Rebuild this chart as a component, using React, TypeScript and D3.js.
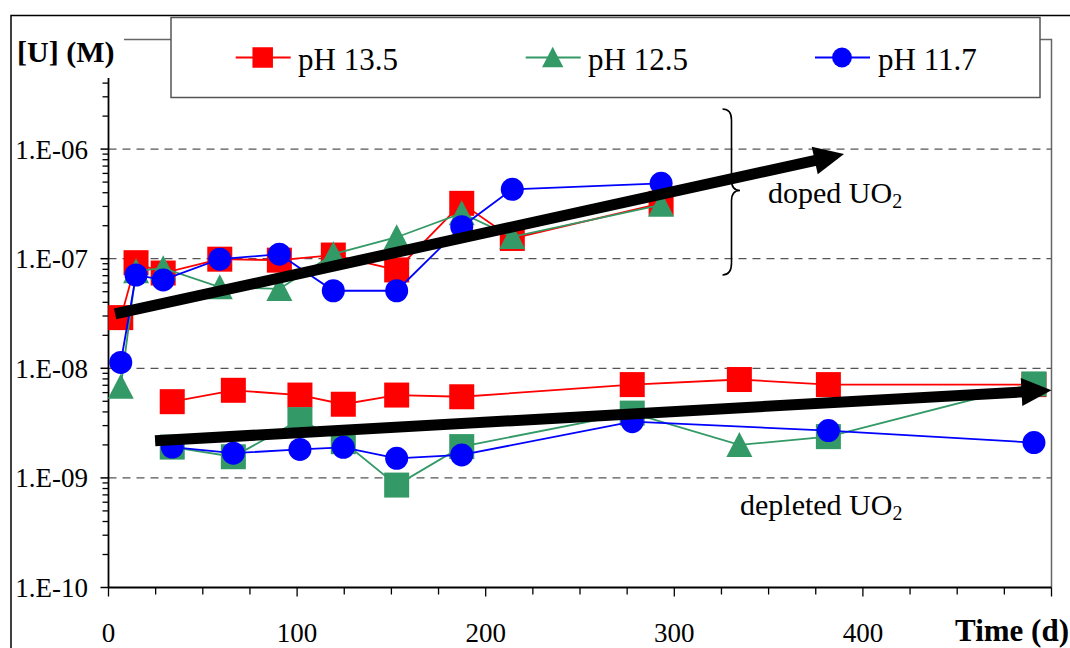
import React from "react";
import * as d3 from "d3";

// ---- data ----
const dopedDays = [6.5, 14.6, 29, 59, 90.6, 119.2, 152.8, 187.3, 214.1, 293];
const dopedPH135 = [2.9e-8, 9.2e-8, 7.4e-8, 9.9e-8, 9.7e-8, 1.08e-7, 7.9e-8, 3.2e-7, 1.53e-7, 3.2e-7];
const dopedPH125 = [6.8e-9, 7.7e-8, 8.2e-8, 5.5e-8, 5.3e-8, 1.1e-7, 1.57e-7, 2.6e-7, 1.58e-7, 3.1e-7];
const dopedPH117 = [1.13e-8, 7.1e-8, 6.4e-8, 9.9e-8, 1.1e-7, 5.1e-8, 5.1e-8, 1.96e-7, 4.3e-7, 4.87e-7];

const depletedDays = [33.8, 66.2, 101.5, 124.5, 152.8, 187.3, 277.7, 334.5, 381.7, 490.7];
const depletedPH135 = [4.96e-9, 6.3e-9, 5.7e-9, 4.7e-9, 5.7e-9, 5.5e-9, 7.1e-9, 7.9e-9, 7.1e-9, 7.1e-9];
const depletedPH125 = [1.91e-9, 1.56e-9, 3.4e-9, 2.14e-9, 8.6e-10, 1.93e-9, 3.9e-9, 2.0e-9, 2.38e-9, 7.2e-9];
const depletedPH125Shapes = ["square", "square", "square", "square", "square", "square", "square", "triangle", "square", "square"];
const depletedPH117Days = [33.8, 66.2, 101.5, 124.5, 152.8, 187.3, 277.7, 381.7, 490.7];
const depletedPH117 = [1.91e-9, 1.68e-9, 1.82e-9, 1.9e-9, 1.51e-9, 1.62e-9, 3.26e-9, 2.7e-9, 2.1e-9];

const legendLabels = ["pH 13.5", "pH 12.5", "pH 11.7"];
const yTickValues = [1e-10, 1e-9, 1e-8, 1e-7, 1e-6];
const yTickLabels = ["1.E-10", "1.E-09", "1.E-08", "1.E-07", "1.E-06"];
const xTickValues = [0, 100, 200, 300, 400];

const dopedArrow = [[3.5, 3.13e-8], [390, 9.0e-7]];
const depletedArrow = [[24.7, 2.18e-9], [500, 6.3e-9]];

// ---- styles ----
const FONT = "'Liberation Serif', 'Times New Roman', serif";
const RED = "#FF0000";
const GREEN = "#339966";
const BLUE = "#0000FF";

const x = d3.scaleLinear().domain([0, 500]).range([108.5, 1051.5]);
const y = d3.scaleLog().domain([1e-10, 1e-5]).range([587.5, 39.5]);

function Marker({ shape, cx, cy, color, size }: any) {
  if (shape === "square") {
    return <rect x={cx - size / 2} y={cy - size / 2} width={size} height={size} fill={color} />;
  }
  if (shape === "circle") {
    return <circle cx={cx} cy={cy} r={size * 0.46} fill={color} />;
  }
  const h = size;
  const w = size * 1.04;
  return (
    <path
      d={`M${cx},${cy - h * 0.52} L${cx + w / 2},${cy + h * 0.48} L${cx - w / 2},${cy + h * 0.48} Z`}
      fill={color}
    />
  );
}

function Series({ days, vals, color, shapes }: any) {
  const line = d3
    .line<number>()
    .x((_, i) => x(days[i]))
    .y((v) => y(v));
  return (
    <g>
      <path d={line(vals) || ""} fill="none" stroke={color} strokeWidth={1.8} />
      {vals.map((v: number, i: number) => (
        <Marker key={i} shape={shapes[i]} cx={x(days[i])} cy={y(v)} color={color} size={25} />
      ))}
    </g>
  );
}

function Arrow({ pts }: any) {
  const [p0, p1] = pts;
  const x0 = x(p0[0]), y0 = y(p0[1]);
  const x1 = x(p1[0]), y1 = y(p1[1]);
  const dx = x1 - x0, dy = y1 - y0;
  const len = Math.hypot(dx, dy);
  const ux = dx / len, uy = dy / len;
  const hl = 30, hw = 14;
  const bx = x1 - ux * hl, by = y1 - uy * hl;
  const px = -uy, py = ux;
  return (
    <g>
      <line x1={x0} y1={y0} x2={bx + ux * 2} y2={by + uy * 2} stroke="#000" strokeWidth={11} />
      <path
        d={`M${x1},${y1} L${bx + px * hw},${by + py * hw} L${bx - px * hw},${by - py * hw} Z`}
        fill="#000"
      />
    </g>
  );
}

export default function App() {
  const minorY: number[] = [];
  for (let e = -10; e < -5; e++) {
    for (let m = 2; m <= 9; m++) minorY.push(m * Math.pow(10, e));
  }
  const xTicks = d3.range(0, 501, 25);
  const rep = (s: string, n: number) => Array(n).fill(s);

  return (
    <svg
      width={1070}
      height={648}
      style={{ position: "absolute", left: 0, top: 0, background: "#fff" }}
      fontFamily={FONT}
    >
      <rect x={0} y={0} width={1070} height={648} fill="#fff" />
      {/* outer chart border */}
      <path d="M11,648 L11,15.5 L1070,15.5" fill="none" stroke="#000" strokeWidth={1.5} />

      {/* plot frame */}
      <path d="M108.5,39.5 L1051.5,39.5 L1051.5,587.5" fill="none" stroke="#666" strokeWidth={1.5} />

      {/* gridlines */}
      {[1e-9, 1e-8, 1e-7, 1e-6].map((v) => (
        <line key={v} x1={108.5} x2={1051.5} y1={y(v)} y2={y(v)} stroke="#555" strokeWidth={1.2} strokeDasharray="8,6" />
      ))}

      {/* y axis */}
      <line x1={108.5} x2={108.5} y1={39.5} y2={587.5} stroke="#000" strokeWidth={1.8} />
      {minorY.map((v, i) => (
        <line key={i} x1={102.5} x2={108.5} y1={y(v)} y2={y(v)} stroke="#000" strokeWidth={1.3} />
      ))}
      {yTickValues.map((v, i) => (
        <g key={v}>
          <line x1={100.5} x2={108.5} y1={y(v)} y2={y(v)} stroke="#000" strokeWidth={1.5} />
          <text x={88} y={y(v) + 9.5} fontSize={27} textAnchor="end" fill="#000">
            {yTickLabels[i]}
          </text>
        </g>
      ))}

      {/* x axis */}
      <line x1={108.5} x2={1051.5} y1={587.5} y2={587.5} stroke="#000" strokeWidth={1.8} />
      {xTicks.map((t) => (
        <line key={t} x1={x(t)} x2={x(t)} y1={587.5} y2={t % 100 === 0 ? 596.5 : 594.5} stroke="#000" strokeWidth={1.3} />
      ))}
      {xTickValues.map((t) => (
        <text key={t} x={x(t)} y={642} fontSize={27} textAnchor="middle" fill="#000">
          {t}
        </text>
      ))}

      {/* series */}
      <Series days={dopedDays} vals={dopedPH135} color={RED} shapes={rep("square", 10)} />
      <Series days={depletedDays} vals={depletedPH135} color={RED} shapes={rep("square", 10)} />
      <Series days={dopedDays} vals={dopedPH125} color={GREEN} shapes={rep("triangle", 10)} />
      <Series days={depletedDays} vals={depletedPH125} color={GREEN} shapes={depletedPH125Shapes} />
      <Series days={dopedDays} vals={dopedPH117} color={BLUE} shapes={rep("circle", 10)} />
      <Series days={depletedPH117Days} vals={depletedPH117} color={BLUE} shapes={rep("circle", 9)} />

      {/* trend arrows */}
      <Arrow pts={dopedArrow} />
      <Arrow pts={depletedArrow} />

      {/* brace */}
      <path
        d="M722.5,109 Q731.5,109 731.5,120 L731.5,180 Q731.5,190.5 740,190.5 Q731.5,190.5 731.5,201 L731.5,263 Q731.5,275 722.5,275"
        fill="none"
        stroke="#000"
        strokeWidth={1.6}
      />

      {/* annotations */}
      <text x={768} y={203} fontSize={30} fill="#000">
        doped UO<tspan fontSize={20} dy={5}>2</tspan>
      </text>
      <text x={740} y={515} fontSize={30} fill="#000">
        depleted UO<tspan fontSize={20} dy={5}>2</tspan>
      </text>

      {/* y axis title with white backing */}
      <rect x={12.5} y={17} width={111.5} height={61} fill="#fff" />
      <text x={17} y={62} fontSize={30} fontWeight="bold" fill="#000">
        [U] (M)
      </text>

      {/* x axis title */}
      <text x={1069} y={641} fontSize={31} fontWeight="bold" textAnchor="end" fill="#000">
        Time (d)
      </text>

      {/* legend */}
      <rect x={171} y={17.5} width={869} height={80} fill="#fff" stroke="#555" strokeWidth={1.5} />
      {[
        { c: RED, s: "square", lx: 235.7, mx: 262.7, tx: 298 },
        { c: GREEN, s: "triangle", lx: 525.7, mx: 552.7, tx: 588 },
        { c: BLUE, s: "circle", lx: 815, mx: 842, tx: 878 },
      ].map((d, i) => (
        <g key={i}>
          <line x1={d.lx} x2={d.lx + 55} y1={57.5} y2={57.5} stroke={d.c} strokeWidth={1.8} />
          <Marker shape={d.s} cx={d.mx} cy={57.5} color={d.c} size={d.s === "circle" ? 21.5 : 20.5} />
          <text x={d.tx} y={70} fontSize={31} fill="#000">
            {legendLabels[i]}
          </text>
        </g>
      ))}
    </svg>
  );
}
